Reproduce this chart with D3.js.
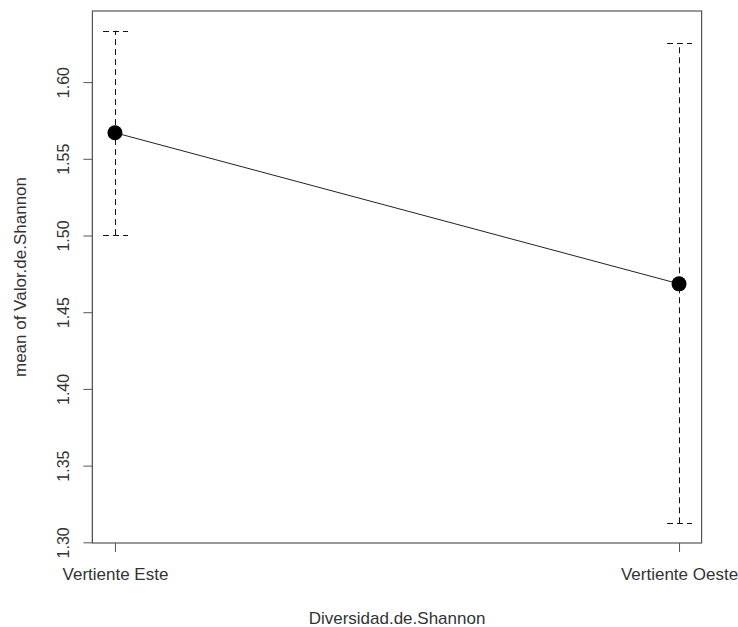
<!DOCTYPE html>
<html>
<head>
<meta charset="utf-8">
<script src="https://cdn.jsdelivr.net/npm/d3@7"></script>
<style>
  html, body { margin: 0; padding: 0; background: #fff; }
  text { font-family: "Liberation Sans", Arial, sans-serif; fill: #333; }
</style>
</head>
<body>
<svg id="chart" width="738" height="627"></svg>
<script>
// Data
const categories = ["Vertiente Este", "Vertiente Oeste"];
const means = [1.567, 1.4685];
const upper = [1.6335, 1.6255];
const lower = [1.5003, 1.3124];
const yTicks = [1.30, 1.35, 1.40, 1.45, 1.50, 1.55, 1.60];
const xTitle = "Diversidad.de.Shannon";
const yTitle = "mean of Valor.de.Shannon";

const svg = d3.select("#chart");
const box = { left: 92.4, right: 701.6, top: 11, bottom: 543 };
const fontSize = 16;

const x = d3.scalePoint().domain(categories).range([box.left, box.right]).padding(0.04);

const lo = d3.min(lower), hi = d3.max(upper), ext = (hi - lo) * 0.04;
const y = d3.scaleLinear().domain([lo - ext, hi + ext]).range([box.bottom, box.top]);

// Plot box
svg.append("rect")
  .attr("x", box.left).attr("y", box.top)
  .attr("width", box.right - box.left).attr("height", box.bottom - box.top)
  .attr("fill", "none").attr("stroke", "#555").attr("stroke-width", 1.2);

// Y axis
const yAxis = d3.axisLeft(y).tickValues(yTicks).tickSize(9).tickPadding(6)
  .tickFormat(d3.format(".2f"));
const gy = svg.append("g").attr("transform", `translate(${box.left},0)`).call(yAxis);
gy.select(".domain").attr("stroke", "#555").attr("d",
  `M-0,${y(yTicks[0])}V${y(yTicks[yTicks.length - 1])}`);
gy.selectAll(".tick line").attr("stroke", "#555");
gy.selectAll(".tick text")
  .attr("font-size", fontSize)
  .attr("font-family", "Liberation Sans, Arial, sans-serif")
  .attr("fill", "#333")
  .attr("text-anchor", "middle")
  .attr("dy", null)
  .attr("x", null)
  .attr("transform", "translate(-29,0) rotate(-90)")
  .attr("dominant-baseline", "central");

// X axis
const xAxis = d3.axisBottom(x).tickSize(9).tickPadding(16);
const gx = svg.append("g").attr("transform", `translate(0,${box.bottom})`).call(xAxis);
gx.select(".domain").remove();
gx.selectAll(".tick line").attr("stroke", "#555");
gx.selectAll(".tick text")
  .attr("font-size", fontSize + 1)
  .attr("font-family", "Liberation Sans, Arial, sans-serif")
  .attr("fill", "#333");

// Titles
svg.append("text")
  .attr("x", (box.left + box.right) / 2).attr("y", 618)
  .attr("text-anchor", "middle").attr("dominant-baseline", "central")
  .attr("font-size", fontSize + 1).text(xTitle);
svg.append("text")
  .attr("transform", `translate(20,${(box.top + box.bottom) / 2}) rotate(-90)`)
  .attr("text-anchor", "middle").attr("dominant-baseline", "central")
  .attr("font-size", fontSize + 1).text(yTitle);

// Error bars
const dash = "6,4";
const capW = 12.5;
categories.forEach((c, i) => {
  const cx = Math.round(x(c)) + 0.5;
  svg.append("line").attr("x1", cx).attr("x2", cx)
    .attr("y1", y(lower[i])).attr("y2", y(upper[i]))
    .attr("stroke", "#111").attr("stroke-dasharray", dash);
  [upper[i], lower[i]].forEach(v => {
    const yy = Math.round(y(v)) + 0.5;
    svg.append("line").attr("x1", cx - capW).attr("x2", cx + capW)
      .attr("y1", yy).attr("y2", yy)
      .attr("stroke", "#111").attr("stroke-dasharray", dash);
  });
});

// Mean line
svg.append("path")
  .datum(categories.map((c, i) => [x(c), y(means[i])]))
  .attr("d", d3.line())
  .attr("fill", "none").attr("stroke", "#222").attr("stroke-width", 1);

// Points
svg.selectAll("circle.pt").data(categories).enter().append("circle")
  .attr("class", "pt")
  .attr("cx", d => x(d)).attr("cy", (d, i) => y(means[i]))
  .attr("r", 7.5).attr("fill", "#000");
</script>
</body>
</html>
